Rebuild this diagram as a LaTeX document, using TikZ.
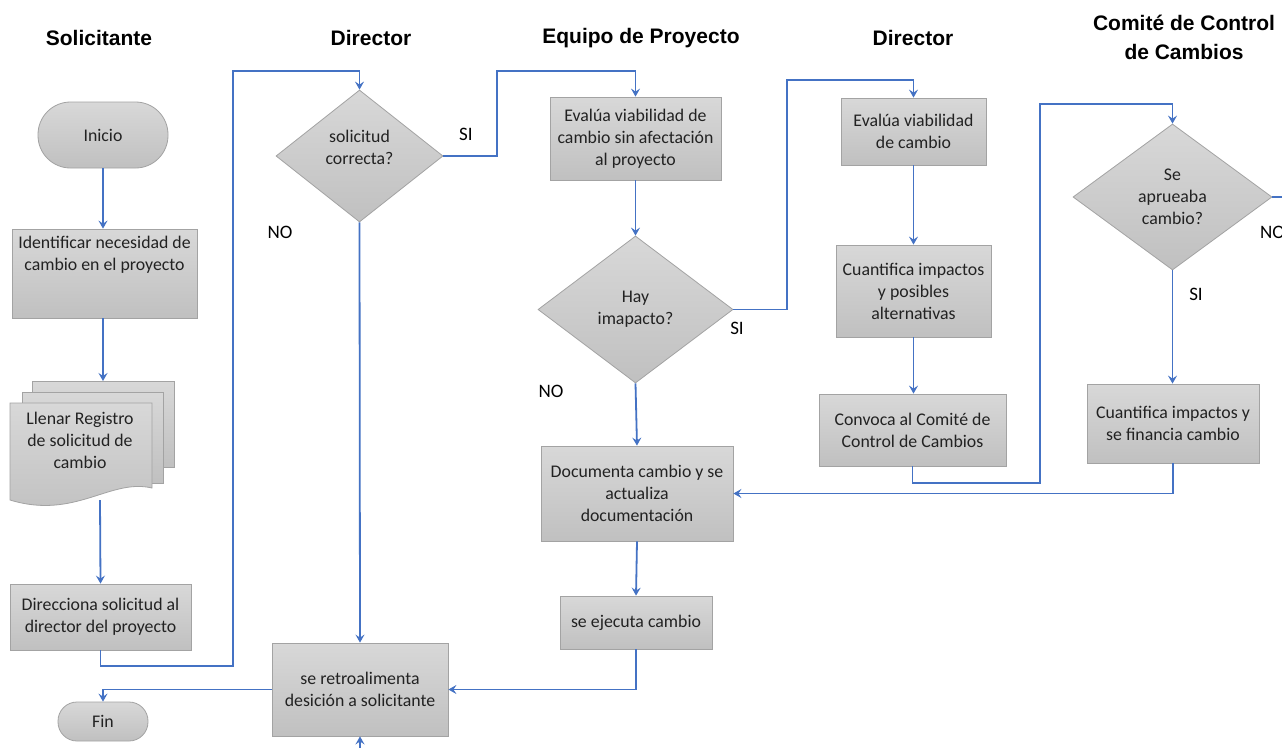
\documentclass[tikz,border=0pt]{standalone}
\usepackage{fontspec}
\setmainfont{Carlito}
\newfontfamily\headfont{Liberation Sans}
\usetikzlibrary{shapes.geometric,arrows.meta}
\definecolor{flowblue}{HTML}{4472C4}
\definecolor{boxtop}{HTML}{D8D8D8}
\definecolor{boxbot}{HTML}{C0C0C0}
\definecolor{boxline}{HTML}{A3A3A3}
\definecolor{boxtext}{HTML}{222222}
\tikzset{
  x=1pt, y=-1pt,
  shade3d/.style={top color=boxtop, bottom color=boxbot, draw=boxline, line width=0.8pt},
  txt/.style={font=\fontsize{17.8}{22}\selectfont, text=boxtext, align=center, inner sep=0pt},
  box/.style={shade3d, txt, rectangle},
  decision/.style={shade3d, txt, diamond, inner sep=0pt},
  terminal/.style={shade3d, txt, rectangle},
  header/.style={font=\headfont\bfseries\fontsize{21}{29}\selectfont, align=center, inner sep=0pt},
  tag/.style={font=\fontsize{19}{22}\selectfont, inner sep=0pt},
  arr/.style={draw=flowblue, line width=1.8pt, -{Stealth[length=8pt,width=9pt,inset=3pt]}},
  wire/.style={draw=flowblue, line width=1.8pt},
}
\begin{document}
\begin{tikzpicture}
\useasboundingbox[fill=white] (0,0) rectangle (1282,747);

% lane headings
\node[header] (h1) at (99,38) {Solicitante};
\node[header] (h2) at (371,38) {Director};
\node[header] (h3) at (641,38) {Equipo de Proyecto};
\node[header] (h4) at (913,38) {Director};
\node[header] (h5) at (1184,37) {Comité de Control\\de Cambios};

% Solicitante lane
\node[terminal, rounded corners=32.5pt, minimum width=130pt, minimum height=66pt] (inicio) at (103,135) {Inicio};
\node[box, minimum width=185pt, minimum height=89pt] (ident) at (104.5,273.5) {};
\node[txt] (identtxt) at (104.5,255) {Identificar necesidad de\\cambio en el proyecto};

% stacked document
\path[shade3d] (32,381) rectangle (174,467);
\path[shade3d] (22,392) rectangle (163,483);
\path[shade3d] (10,403) -- (152,403) -- (152,488)
   .. controls (110,478) and (75,520) .. (10,500) -- cycle;
\node[txt] (doc) at (80,440) {Llenar Registro\\de solicitud de\\cambio};
\coordinate (doctop) at (103,381);
\coordinate (docbot) at (100,500);

\node[box, minimum width=181pt, minimum height=66pt] (direc) at (100.5,617) {Direcciona solicitud al\\director del proyecto};
\node[terminal, rounded corners=19pt, minimum width=90pt, minimum height=39pt] (fin) at (103,721.5) {Fin};

% Director lane
\node[decision, minimum width=167pt, minimum height=132pt] (dsol) at (359.5,156) {};
\node[txt] (dsoltxt) at (359.5,147) {solicitud\\correcta?};
\node[box, minimum width=176pt, minimum height=93pt] (retro) at (360,689.5) {se retroalimenta\\desición a solicitante};
\coordinate (below) at (360,752);

% Equipo de Proyecto lane
\node[box, minimum width=171pt, minimum height=83pt] (eval1) at (635.5,138.5) {Evalúa viabilidad de\\cambio sin afectación\\al proyecto};
\node[decision, minimum width=195pt, minimum height=147pt] (dimp) at (635.5,309.5) {Hay\\imapacto?};
\node[box, minimum width=192pt, minimum height=95pt] (docum) at (637,493.5) {Documenta cambio y se\\actualiza\\documentación};
\node[box, minimum width=152pt, minimum height=53pt] (ejec) at (636,622.5) {se ejecuta cambio};

% Director lane (second)
\node[box, minimum width=145pt, minimum height=67pt] (eval2) at (913.5,131.5) {Evalúa viabilidad\\de cambio};
\node[box, minimum width=155pt, minimum height=92pt] (cuant1) at (913.5,291) {Cuantifica impactos\\y posibles\\alternativas};
\node[box, minimum width=187pt, minimum height=72pt] (conv) at (912.5,430) {Convoca al Comité de\\Control de Cambios};

% Comité lane
\node[decision, minimum width=199pt, minimum height=146pt] (dapr) at (1172.5,197) {Se\\aprueaba\\cambio?};
\node[box, minimum width=172pt, minimum height=79pt] (cuant2) at (1173,423.5) {Cuantifica impactos y\\se financia cambio};
\coordinate (offright) at (1290,197);

% connectors
\draw[arr] (inicio.south) -- (inicio.south |- ident.north);
\draw[arr] (inicio.south |- ident.south) -- (doctop);
\draw[arr] (docbot) -- (direc.north);
\draw[arr] (direc.south) |- (233,666) -- (233,71) -| (dsol.north);
\draw[arr] (dsol.east) -| (497,71) -| (eval1.north);
\draw[arr] (dsol.south) -- (retro.north);
\draw[arr] (eval1.south) -- (dimp.north);
\draw[arr] (dimp.east) -| (787,80) -| (eval2.north);
\draw[arr] (dimp.south) -- (docum.north);
\draw[arr] (docum.south) -- (ejec.north);
\draw[arr] (ejec.south) |- (retro.east);
\draw[arr] (retro.west) -| (fin.north);
\draw[arr] (below) -- (retro.south);
\draw[arr] (eval2.south) -- (cuant1.north);
\draw[arr] (cuant1.south) -- (cuant1.south |- conv.north);
\draw[arr] (conv.south) |- (1040,483) -- (1040,104) -| (dapr.north);
\draw[wire] (dapr.east) -- (offright);
\draw[arr] (dapr.south) -- (dapr.south |- cuant2.north);
\draw[arr] (cuant2.south) |- (docum.east);

% branch labels
\node[tag] (si1) at (466,134) {SI};
\node[tag] (no1) at (280,232) {NO};
\node[tag] (si2) at (737,328) {SI};
\node[tag] (no2) at (551,391) {NO};
\node[tag] (si3) at (1196,294) {SI};
\node[tag, anchor=west] (no3) at (1260,232) {NO};
\end{tikzpicture}
\end{document}
